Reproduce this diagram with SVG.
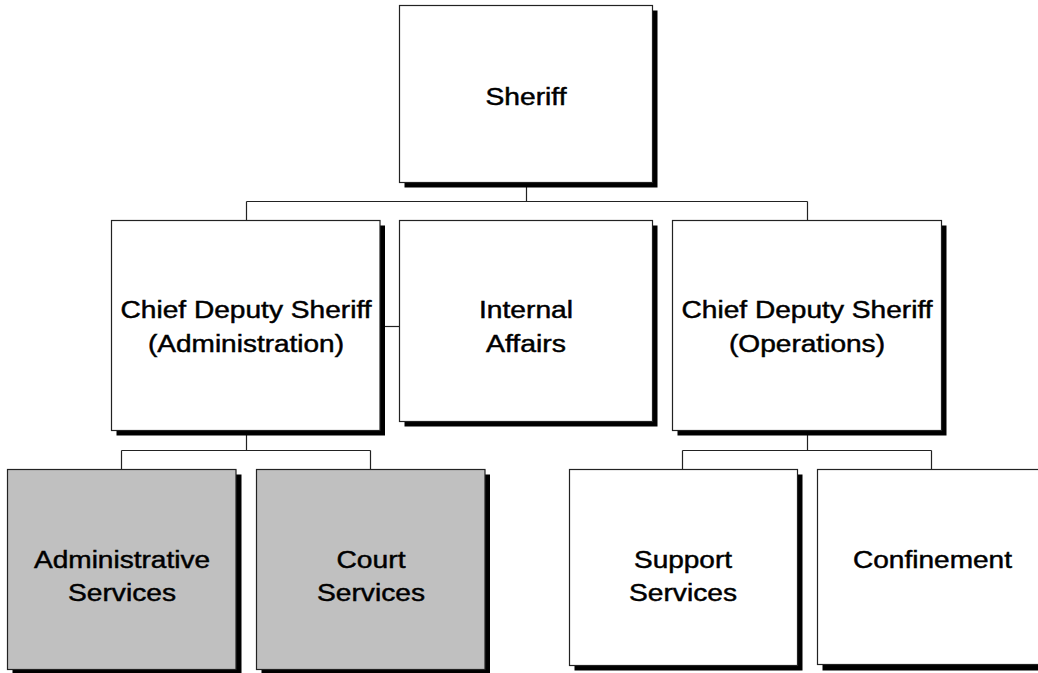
<svg xmlns="http://www.w3.org/2000/svg" width="1038" height="673" viewBox="0 0 1038 673">
<style>
.box{fill:#fff;stroke:#222;stroke-width:1.2}
.gray{fill:#c0c0c0;stroke:#222;stroke-width:1.2}
.sh{fill:#000}
.t{font-family:"Liberation Sans",Arial,sans-serif;font-size:23px;fill:#000;stroke:#000;stroke-width:0.45;text-anchor:middle}
.c{fill:none;stroke:#222;stroke-width:1.2}
</style>
<rect width="1038" height="673" fill="#fff"/>
<g id="connectors">
<path class="c" d="M526.5 187V201.5M246.5 201.5H807.5M246.5 201.5V220.5M807.5 201.5V220.5"/>
<path class="c" d="M380 326.5H399.5"/>
<path class="c" d="M246.5 435V450.5M121.5 450.5H370.5M121.5 450.5V469.5M370.5 450.5V469.5"/>
<path class="c" d="M807.5 435V450.5M682.5 450.5H931.5M682.5 450.5V469.5M931.5 450.5V469.5"/>
</g>
<g id="sheriff">
<rect class="sh" x="404.5" y="10.5" width="253" height="177"/>
<rect class="box" x="399.5" y="5.5" width="253" height="177"/>
<text class="t" x="526" y="105" textLength="81" lengthAdjust="spacingAndGlyphs">Sheriff</text>
</g>
<g id="chief-admin">
<rect class="sh" x="116.5" y="225.5" width="268.5" height="210"/>
<rect class="box" x="111.5" y="220.5" width="268.5" height="210"/>
<text class="t" x="246" y="318" textLength="251" lengthAdjust="spacingAndGlyphs">Chief Deputy Sheriff</text>
<text class="t" x="246" y="352" textLength="196" lengthAdjust="spacingAndGlyphs">(Administration)</text>
</g>
<g id="internal-affairs">
<rect class="sh" x="404.5" y="225.5" width="253" height="201"/>
<rect class="box" x="399.5" y="220.5" width="253" height="201"/>
<text class="t" x="526" y="318" textLength="94" lengthAdjust="spacingAndGlyphs">Internal</text>
<text class="t" x="526" y="352" textLength="80" lengthAdjust="spacingAndGlyphs">Affairs</text>
</g>
<g id="chief-ops">
<rect class="sh" x="677.5" y="225.5" width="269" height="210"/>
<rect class="box" x="672.5" y="220.5" width="269" height="210"/>
<text class="t" x="807" y="318" textLength="251" lengthAdjust="spacingAndGlyphs">Chief Deputy Sheriff</text>
<text class="t" x="807" y="352" textLength="156" lengthAdjust="spacingAndGlyphs">(Operations)</text>
</g>
<g id="admin-services">
<rect class="sh" x="12.5" y="474.5" width="229" height="200"/>
<rect class="gray" x="7.5" y="469.5" width="228.5" height="200"/>
<text class="t" x="122" y="568" textLength="176" lengthAdjust="spacingAndGlyphs">Administrative</text>
<text class="t" x="122" y="601" textLength="108" lengthAdjust="spacingAndGlyphs">Services</text>
</g>
<g id="court-services">
<rect class="sh" x="261.5" y="474.5" width="228.5" height="200"/>
<rect class="gray" x="256.5" y="469.5" width="228.5" height="200"/>
<text class="t" x="371" y="568" textLength="69" lengthAdjust="spacingAndGlyphs">Court</text>
<text class="t" x="371" y="601" textLength="108" lengthAdjust="spacingAndGlyphs">Services</text>
</g>
<g id="support-services">
<rect class="sh" x="574.5" y="474.5" width="228" height="196"/>
<rect class="box" x="569.5" y="469.5" width="228" height="196"/>
<text class="t" x="683" y="568" textLength="98" lengthAdjust="spacingAndGlyphs">Support</text>
<text class="t" x="683" y="601" textLength="108" lengthAdjust="spacingAndGlyphs">Services</text>
</g>
<g id="confinement">
<rect class="sh" x="822.5" y="474.5" width="230" height="196"/>
<rect class="box" x="817.5" y="469.5" width="230" height="195"/>
<text class="t" x="932.5" y="568" textLength="159" lengthAdjust="spacingAndGlyphs">Confinement</text>
</g>
</svg>
